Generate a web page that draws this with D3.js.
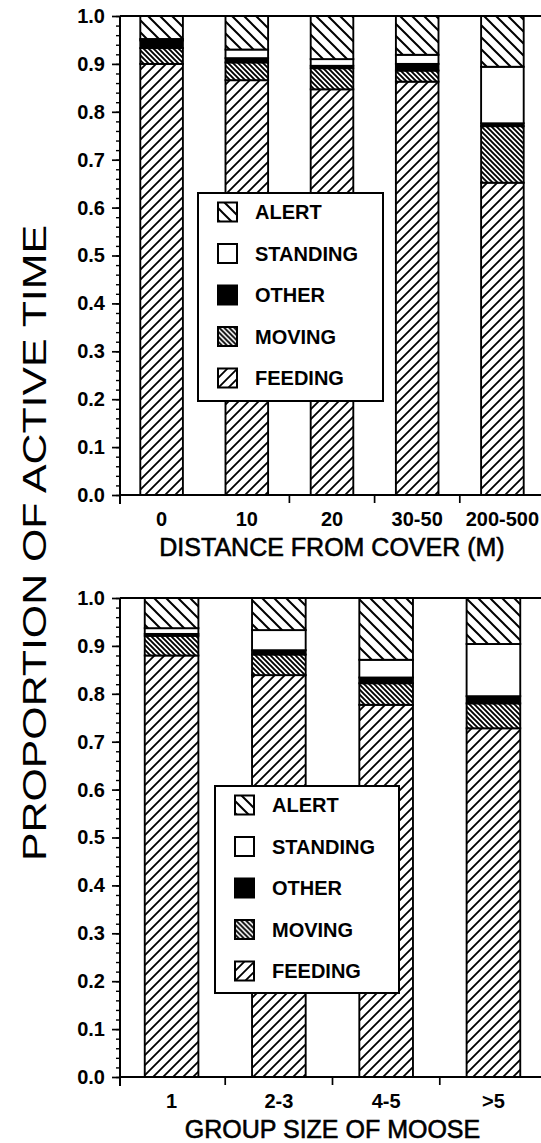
<!DOCTYPE html>
<html>
<head>
<meta charset="utf-8">
<script src="https://cdn.jsdelivr.net/npm/d3@7"></script>
<style>
  html, body { margin: 0; padding: 0; background: #fff; }
  svg { display: block; font-family: "Liberation Sans", Arial, Helvetica, sans-serif; }
</style>
</head>
<body>
<svg id="chart" width="541" height="1143"></svg>
<script>
// stacking order, bottom to top
const keys = ['feeding', 'moving', 'other', 'standing', 'alert'];
const legendKeys = ['alert', 'standing', 'other', 'moving', 'feeding'];
const legendLabels = ['ALERT', 'STANDING', 'OTHER', 'MOVING', 'FEEDING'];

// top panel: distance from cover
const distCats = ['0', '10', '20', '30-50', '200-500'];
const distFeeding = [0.900, 0.866, 0.847, 0.863, 0.652];
const distMoving = [0.033, 0.037, 0.044, 0.023, 0.118];
const distOther = [0.016, 0.009, 0.005, 0.014, 0.006];
const distStanding = [0.003, 0.018, 0.014, 0.019, 0.118];
const distAlert = [0.048, 0.070, 0.090, 0.081, 0.106];

// bottom panel: group size
const groupCats = ['1', '2-3', '4-5', '>5'];
const groupFeeding = [0.880, 0.839, 0.777, 0.728];
const groupMoving = [0.041, 0.043, 0.045, 0.052];
const groupOther = [0.004, 0.009, 0.012, 0.015];
const groupStanding = [0.012, 0.042, 0.037, 0.109];
const groupAlert = [0.063, 0.067, 0.129, 0.096];

const yMajor = d3.range(0, 11).map(d => d / 10);
const yMinor = d3.range(0, 51).map(d => d / 50);

const width = 541;
const svg = d3.select('#chart');
const defs = svg.append('defs');

// hatch patterns
function hatch(id, size, dir, sw) {
  const p = defs.append('pattern')
    .attr('id', id)
    .attr('patternUnits', 'userSpaceOnUse')
    .attr('width', size)
    .attr('height', size);
  p.append('rect').attr('width', size).attr('height', size).attr('fill', '#fff');
  const s = size;
  const d = dir === '/'
    ? `M-1,1 L1,-1 M0,${s} L${s},0 M${s - 1},${s + 1} L${s + 1},${s - 1}`
    : `M-1,${s - 1} L1,${s + 1} M0,0 L${s},${s} M${s - 1},-1 L${s + 1},1`;
  p.append('path').attr('d', d).attr('stroke', '#000').attr('stroke-width', sw).attr('fill', 'none');
}
hatch('p-feeding', 10, '/', 1.8);
hatch('p-alert', 12, '\\', 2);
hatch('p-moving', 5, '\\', 1.9);

const fills = {
  feeding: 'url(#p-feeding)',
  moving: 'url(#p-moving)',
  other: '#000',
  standing: '#fff',
  alert: 'url(#p-alert)'
};

function drawPanel(cfg) {
  const rows = cfg.cats.map((c, i) => ({
    cat: c,
    feeding: cfg.feeding[i],
    moving: cfg.moving[i],
    other: cfg.other[i],
    standing: cfg.standing[i],
    alert: cfg.alert[i]
  }));

  const x = d3.scaleBand()
    .domain(cfg.cats)
    .range(cfg.xRange)
    .paddingInner(0.5)
    .paddingOuter(cfg.padOuter);

  const y = d3.scaleLinear()
    .domain([0, 1])
    .range(cfg.yRange);

  const g = svg.append('g');
  const series = d3.stack().keys(keys)(rows);

  // bars
  g.append('g')
    .selectAll('g')
    .data(series)
    .join('g')
      .attr('fill', d => fills[d.key])
    .selectAll('rect')
    .data(d => d)
    .join('rect')
      .attr('x', d => x(d.data.cat))
      .attr('width', x.bandwidth())
      .attr('y', d => y(d[1]))
      .attr('height', d => y(d[0]) - y(d[1]))
      .attr('stroke', '#000')
      .attr('stroke-width', 1.9);

  // frame lines
  const x0 = cfg.xRange[0] + 1;
  g.append('line')
    .attr('x1', x0).attr('x2', width)
    .attr('y1', y(1)).attr('y2', y(1))
    .attr('stroke', '#000').attr('stroke-width', 2);
  g.append('line')
    .attr('x1', x0).attr('x2', width)
    .attr('y1', y(0)).attr('y2', y(0))
    .attr('stroke', '#000').attr('stroke-width', 2);

  // y axis
  const yAxis = g.append('g')
    .attr('transform', `translate(${x0},0)`)
    .call(d3.axisLeft(y).tickValues(yMajor).tickSize(8).tickPadding(7).tickFormat(d3.format('.1f')));
  yAxis.select('.domain').remove();
  yAxis.selectAll('line').attr('stroke-width', 1.7);
  yAxis.selectAll('text')
    .attr('font-size', 20)
    .attr('font-weight', 'bold')
    .attr('fill', '#000')
    .attr('font-family', '"Liberation Sans", Arial, sans-serif');

  const yMinorAxis = g.append('g')
    .attr('transform', `translate(${x0},0)`)
    .call(d3.axisLeft(y).tickValues(yMinor).tickSize(4).tickFormat(''));
  yMinorAxis.select('.domain').remove();
  yMinorAxis.selectAll('line').attr('stroke-width', 1.4);

  g.append('line')
    .attr('x1', x0).attr('x2', x0)
    .attr('y1', y(1)).attr('y2', y(0) + 9)
    .attr('stroke', '#000').attr('stroke-width', 2);

  // x ticks at category boundaries
  const half = x.step() * x.paddingInner() / 2;
  let bounds = cfg.cats.slice(1).map(c => x(c) - half);
  if (cfg.skipFirstBound) bounds = bounds.slice(1); // not drawn in the original
  g.append('g')
    .selectAll('line')
    .data(bounds)
    .join('line')
      .attr('x1', d => d).attr('x2', d => d)
      .attr('y1', y(0)).attr('y2', y(0) + 8)
      .attr('stroke', '#000').attr('stroke-width', 1.7);

  g.append('g')
    .selectAll('text')
    .data(cfg.cats)
    .join('text')
      .attr('x', d => x(d) + x.bandwidth() / 2)
      .attr('y', y(0) + 31)
      .attr('text-anchor', 'middle')
      .attr('font-size', 20)
      .attr('font-weight', 'bold')
      .text(d => d);

  g.append('text')
    .attr('x', (cfg.xRange[0] + cfg.xRange[1]) / 2)
    .attr('y', y(0) + 61)
    .attr('text-anchor', 'middle')
    .attr('font-size', 25)
    .attr('stroke', '#000')
    .attr('stroke-width', 0.6)
    .text(cfg.title);

  // legend
  const L = cfg.legend;
  const lg = g.append('g').attr('transform', `translate(${L.x},${L.y})`);
  lg.append('rect')
    .attr('width', L.w).attr('height', L.h)
    .attr('fill', '#fff').attr('stroke', '#000').attr('stroke-width', 2);
  const item = lg.selectAll('g.item')
    .data(legendKeys)
    .join('g')
      .attr('class', 'item')
      .attr('transform', (d, i) => `translate(0,${19 + i * 41.5})`);
  item.append('rect')
    .attr('x', 20).attr('y', -9.5)
    .attr('width', 19).attr('height', 19)
    .attr('fill', d => fills[d])
    .attr('stroke', '#000').attr('stroke-width', 2);
  item.append('text')
    .attr('x', 57).attr('y', 7)
    .attr('font-size', 20)
    .attr('font-weight', 'bold')
    .text((d, i) => legendLabels[i]);
}

drawPanel({
  cats: distCats,
  feeding: distFeeding, moving: distMoving, other: distOther,
  standing: distStanding, alert: distAlert,
  xRange: [119, 545], padOuter: 0.25,
  yRange: [495, 16],
  skipFirstBound: true,
  title: 'DISTANCE FROM COVER (M)',
  legend: { x: 198, y: 193, w: 185, h: 208 }
});

drawPanel({
  cats: groupCats,
  feeding: groupFeeding, moving: groupMoving, other: groupOther,
  standing: groupStanding, alert: groupAlert,
  xRange: [119, 546], padOuter: 0.24,
  yRange: [1077, 598],
  skipFirstBound: false,
  title: 'GROUP SIZE OF MOOSE',
  legend: { x: 215, y: 786, w: 184, h: 207 }
});

// shared y title
svg.append('text')
  .attr('transform', 'translate(46,543) rotate(-90)')
  .attr('text-anchor', 'middle')
  .attr('font-size', 33)
  .attr('textLength', 636)
  .attr('lengthAdjust', 'spacingAndGlyphs')
  .text('PROPORTION OF ACTIVE TIME');
</script>
</body>
</html>
